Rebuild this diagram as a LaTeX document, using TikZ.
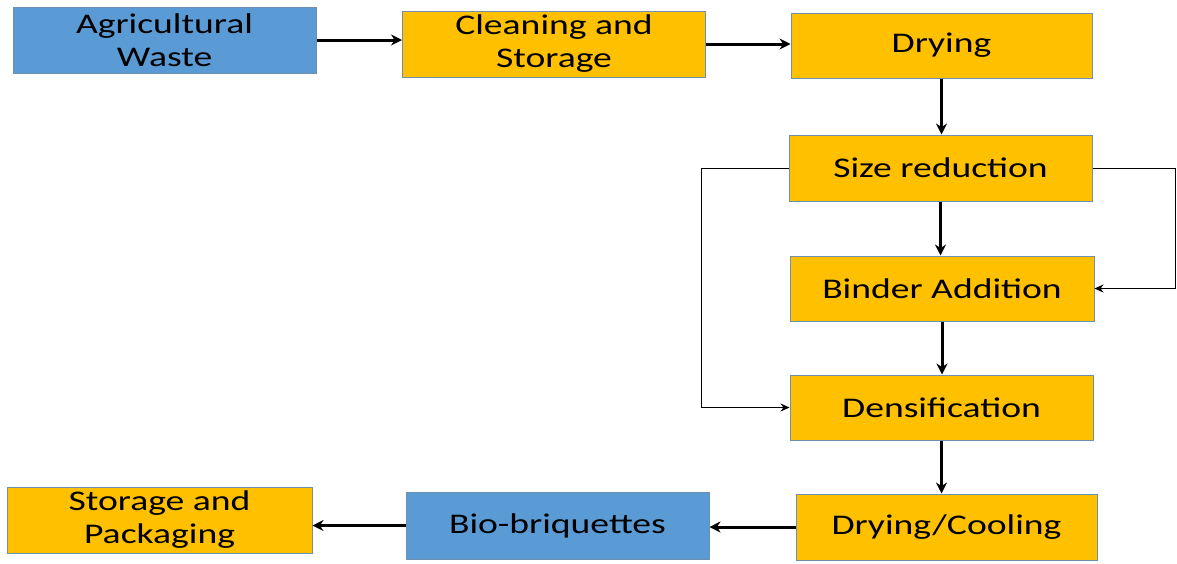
\documentclass[tikz,border=0pt]{standalone}
\usepackage{fontspec}
\setmainfont[FakeStretch=1.32]{Carlito}
\usetikzlibrary{arrows.meta}

\definecolor{wasteblue}{HTML}{5B9BD5}
\definecolor{stepgold}{HTML}{FFC000}
\definecolor{edgegrey}{HTML}{6F8FAF}

\tikzset{
	procbox/.style={draw=edgegrey, line width=1pt, inner sep=0pt, align=center,
		minimum width=303pt, minimum height=66pt,
		font=\fontsize{28.5}{33}\selectfont},
	bluebox/.style={procbox, fill=wasteblue},
	goldbox/.style={procbox, fill=stepgold},
	flow/.style={line width=3pt, -{Stealth[length=11pt,width=11pt]}},
	bypass/.style={line width=1pt, -{Stealth[length=9pt,width=8pt]}}
}

\begin{document}
\begin{tikzpicture}[x=1pt, y=-1pt]
	\useasboundingbox (0,0) rectangle (1177,563);
	\node [bluebox] at (164.5,40) (AW) {Agricultural\\Waste};
	\node [goldbox] at (554,44) (CS) {Cleaning and\\Storage};
	\node [goldbox, minimum width=301pt, minimum height=65pt] at (941.5,45.5) (DR) {Drying};
	\node [goldbox] at (940.5,168) (SR) {Size reduction};
	\node [goldbox, minimum width=304pt, minimum height=65pt] at (942,288.5) (BA) {Binder Addition};
	\node [goldbox, minimum height=65pt] at (941.5,407.5) (DE) {Densification};
	\node [goldbox, minimum width=301pt] at (946.5,527) (DC) {Drying/Cooling};
	\node [bluebox, minimum height=67pt] at (557.5,525.5) (BB) {Bio-briquettes};
	\node [goldbox, minimum width=305pt] at (159.5,520) (SP) {Storage and\\Packaging};
	\coordinate (LL) at (701,166);
	\coordinate (RL) at (1175,170);
	\draw [flow] (AW.east) -- (AW.east -| CS.west);
	\draw [flow] (CS.east) -- (CS.east -| DR.west);
	\draw [flow] (DR.south) -- (DR.south |- SR.north);
	\draw [flow] (SR.south) -- (SR.south |- BA.north);
	\draw [flow] (BA.south) -- (BA.south |- DE.north);
	\draw [flow] (DE.south) -- (DE.south |- DC.north);
	\draw [flow] (DC.west) -- (DC.west -| BB.east);
	\draw [flow] (BB.west) -- (BB.west -| SP.east);
	\draw [bypass] (SR.west) -- (LL |- SR.west) -- (LL |- DE.west) -- (DE.west);
	\draw [bypass] (SR.east) -- (RL |- SR.east) -- (RL |- BA.east) -- (BA.east);
\end{tikzpicture}
\end{document}
